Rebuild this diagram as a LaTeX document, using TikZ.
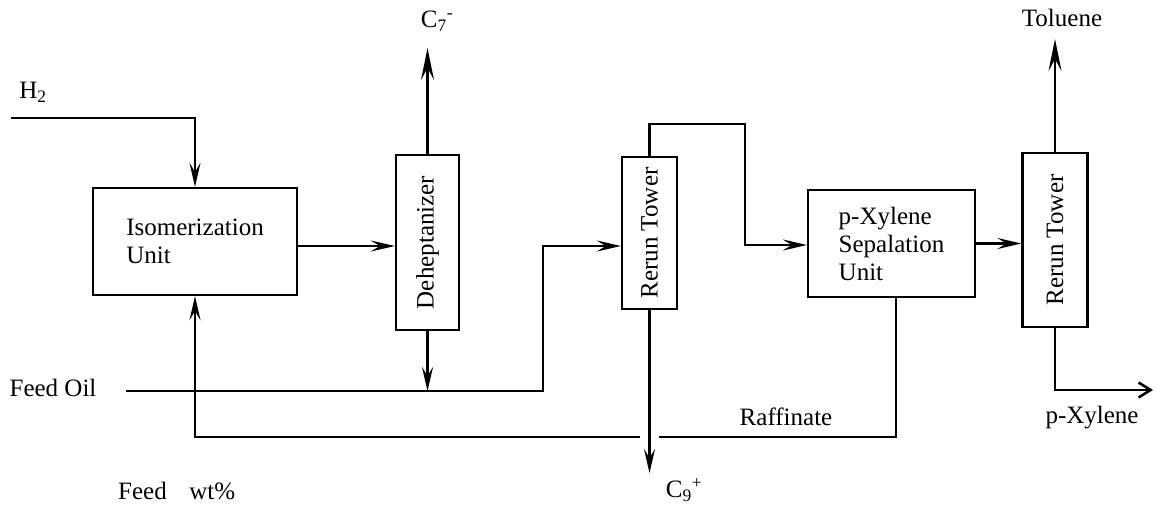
\documentclass[tikz,border=0pt]{standalone}
\usepackage{fontspec}
\setmainfont{Liberation Serif}
\usetikzlibrary{arrows.meta,calc}
\begin{document}
\begin{tikzpicture}[x=1pt,y=-1pt,
  every node/.style={font=\fontsize{25}{28}\selectfont, inner sep=0pt},
  unitbox/.style={draw, line width=2.3pt, align=left},
  towerbox/.style={draw, line width=2.3pt},
  pipe/.style={line width=2.6pt},
  arr/.style={pipe, -{Stealth[length=24pt,width=11pt,inset=9pt]}},
  arrup/.style={pipe, -{Stealth[length=32pt,width=13pt,inset=12pt]}},
  barb/.style={pipe, -{Straight Barb[length=12pt,width=15pt]}},
]
\useasboundingbox (0,0) rectangle (1155,504);

% units
\node[unitbox, minimum width=204pt, minimum height=107pt] (iso) at (195,241.5) {Isomerization\\Unit};
\node[towerbox, minimum width=63pt, minimum height=175pt] (dehep) at (427.5,242.5) {};
\node[rotate=90] (dehepT) at (dehep) {Deheptanizer};
\node[towerbox, minimum width=55pt, minimum height=152pt] (rerun1) at (649.5,233) {};
\node[rotate=90] (rerun1T) at (rerun1) {Rerun Tower};
\node[unitbox, minimum width=167pt, minimum height=107pt] (pxy) at (891.5,243.5) {p-Xylene\\Sepalation\\Unit};
\node[towerbox, minimum width=65pt, minimum height=174pt] (rerun2) at (1055,240) {};
\node[rotate=90] (rerun2T) at (rerun2) {Rerun Tower};

% labels
\node (h2) at (33,92) {H\textsubscript{2}};
\node (c7l) at (437,21) {C\textsubscript{7}\textsuperscript{-}};
\node (tolL) at (1062,18) {Toluene};
\node (feedL) at (53,388) {Feed Oil};
\node (rafL) at (786,417) {Raffinate};
\node (pxL) at (1092,418) {p-Xylene};
\node (c9l) at (684,490) {C\textsubscript{9}\textsuperscript{+}};
\node[anchor=base west] (fw) at (118,499) {Feed\hspace{0.9em}wt\%};

% free ends and bends
\coordinate (h2s) at (11,118);
\coordinate (c7) at (427.5,48);
\coordinate (f0) at (126,391);
\coordinate (f1) at (543,391);
\coordinate (f2) at (543,246);
\coordinate (r1) at (745,124);
\coordinate (r2) at (745,245);
\coordinate (tol) at (1055,39);
\coordinate (px) at (1153,390);
\coordinate (c9) at (649.5,473);
\coordinate (gR) at (659,437);
\coordinate (gL) at (640,437);

% connectors
\draw[arr] (h2s) -| (iso.north);
\draw[arr] ([yshift=-4.5pt]iso.east) -- ([yshift=-4.5pt]iso.east -| dehep.west);
\draw[arrup] (dehep.north) -- (c7);
\draw[arr] (dehep.south) -- (dehep.south |- f0);
\draw[arr] (f0) -- (f1) -- (f2) -- (f2 -| rerun1.west);
\draw[arr] (rerun1.north) |- (r1) -- (r2) -- (r2 -| pxy.west);
\draw[arr] (rerun1.south) -- (c9);
\draw[arr] (pxy.east) -- (pxy.east -| rerun2.west);
\draw[arrup] (rerun2.north) -- (tol);
\draw[barb] (rerun2.south) |- (px);
\draw[pipe] ([xshift=4.5pt]pxy.south) |- (gR);
\draw[arr] (gL) -| (iso.south);
\end{tikzpicture}
\end{document}
